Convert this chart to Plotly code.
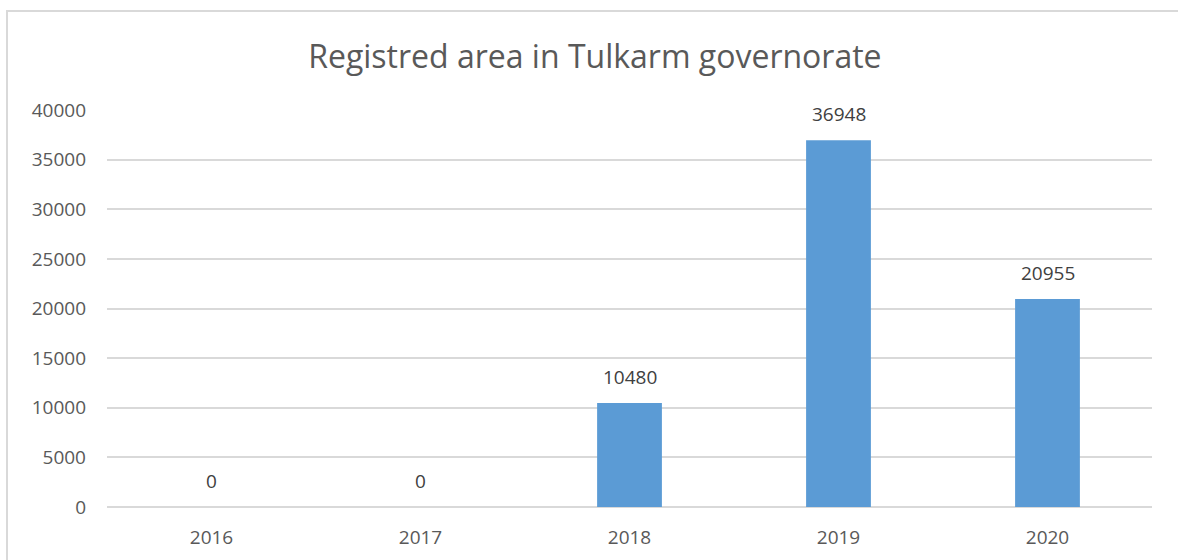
import plotly.graph_objects as go

# Данные
years = ["2016", "2017", "2018", "2019", "2020"]
area = [0, 0, 10480, 36948, 20955]
y_ticks = [0, 5000, 10000, 15000, 20000, 25000, 30000, 35000, 40000]

fig = go.Figure(go.Bar(
    x=years, y=area,
    marker=dict(color="#5B9BD5", line=dict(width=0)),
    hoverinfo="x+y",
))

# Подписи значений над столбцами (x — индекс категории)
for i, v in enumerate(area):
    fig.add_annotation(x=i, y=v, text=str(v), showarrow=False,
                       xanchor="center", yanchor="bottom", yshift=11,
                       font=dict(family="Open Sans", size=19, color="#404040"))

fig.update_layout(
    width=1178, height=560,
    margin=dict(l=107, r=26, t=110, b=53),
    paper_bgcolor="white", plot_bgcolor="white",
    bargap=0.69,
    showlegend=False,
    title=dict(text="Registred area in Tulkarm governorate",
               font=dict(family="Open Sans", size=32, color="#595959"),
               x=0.505, xanchor="center", xref="container",
               y=0.898, yanchor="middle", yref="container"),
    xaxis=dict(type="category", showgrid=False, showline=False, ticks="",
               automargin=False,
               tickfont=dict(family="Open Sans", size=19, color="#595959"),
               ticklabelstandoff=17),
    yaxis=dict(range=[0, 40000], tickvals=y_ticks, automargin=False,
               ticktext=[str(v) for v in y_ticks], showgrid=True,
               gridcolor="#D9D9D9", gridwidth=1.5, zeroline=True,
               zerolinecolor="#D9D9D9", zerolinewidth=1.5,
               tickfont=dict(family="Open Sans", size=19, color="#595959"),
               ticklabelstandoff=20),
    shapes=[dict(type="rect", xref="paper", yref="paper",
                 x0=-100 / 1045, x1=1.2, y0=-0.3, y1=1 + 99 / 397,
                 line=dict(color="#D9D9D9", width=2), layer="below")],
)

# убираем отступ страницы
fig.write_html("out.html", config={"displayModeBar": False},
               post_script="document.body.style.margin='0';")
